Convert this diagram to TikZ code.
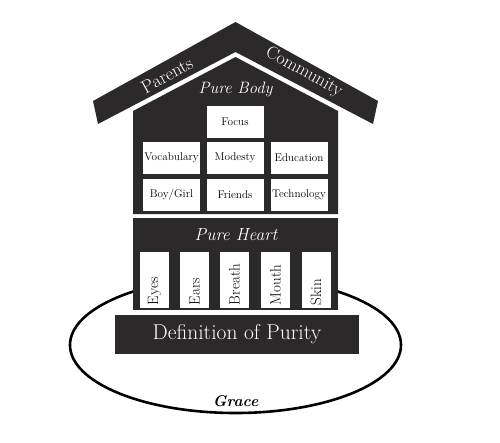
\documentclass[tikz,border=0pt]{standalone}
\usepackage{fontspec}
\definecolor{housegray}{RGB}{43,41,42}
\begin{document}
\begin{tikzpicture}[x=1pt,y=-1pt,
  slab/.style={fill=housegray,draw=none,inner sep=0pt,text=white},
  cell/.style={fill=white,inner sep=0pt,minimum width=57pt,minimum height=32pt,font=\fontsize{11.2}{13}\selectfont},
  sense/.style={fill=white,rotate=90,inner xsep=3pt,inner ysep=0pt,text width=50pt,align=left,minimum height=29pt,font=\fontsize{15}{17}\selectfont}]
\useasboundingbox (0,0) rectangle (500,442);
\draw[line width=2.6pt] (235.5,345) ellipse [x radius=165.5pt, y radius=68pt];
\node[font=\bfseries\itshape\fontsize{15.5}{18}\selectfont] (grace) at (235.5,401) {Grace};
\fill[housegray] (93,101) -- (235.5,22) -- (378,101) -- (373,124) -- (235.5,52) -- (98,124) -- cycle;
\node[text=white,rotate=29,font=\fontsize{18.5}{20}\selectfont] (parents) at (167,75) {Parents};
\node[text=white,rotate=-29,font=\fontsize{18}{20}\selectfont] (community) at (304,72) {Community};
\fill[housegray] (133,214) -- (133,111) -- (235.5,57) -- (338,111) -- (338,214) -- cycle;
\node[text=white,font=\itshape\fontsize{16.5}{18}\selectfont] (purebody) at (235.5,89) {Pure Body};
\node[cell] (focus) at (235,121.5) {Focus};
\node[cell] (vocab) at (171.5,158) {Vocabulary};
\node[cell] (modesty) at (235,158) {Modesty};
\node[cell] (educ) at (299,158) {Education};
\node[cell] (boygirl) at (171.5,194.5) {Boy/Girl};
\node[cell] (friends) at (235,194.5) {Friends};
\node[cell] (tech) at (299,194.5) {Technology};
\node[slab,minimum width=205pt,minimum height=92pt] (heart) at (235.5,264) {};
\node[text=white,font=\itshape\fontsize{17.5}{20}\selectfont] (pureheart) at (236,235) {Pure Heart};
\node[sense] (eyes) at (154.5,280) {Eyes};
\node[sense] (ears) at (194.5,280) {Ears};
\node[sense] (breath) at (234.5,280) {Breath};
\node[sense] (mouth) at (275.5,280) {Mouth};
\node[sense] (skin) at (316,280) {Skin};
\node[slab,minimum width=244pt,minimum height=39pt,font=\fontsize{21.5}{24}\selectfont] (purity) at (237,334.5) {Definition of Purity};
\end{tikzpicture}
\end{document}
